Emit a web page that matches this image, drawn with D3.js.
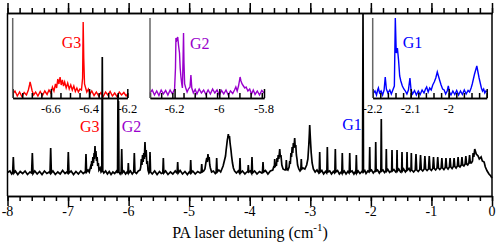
<!DOCTYPE html>
<html>
<head>
<meta charset="utf-8">
<script src="https://cdn.jsdelivr.net/npm/d3@7"></script>
<style>
body { margin: 0; background: #fff; }
.axis path, .axis line { stroke: #000; stroke-width: 1.5; }
</style>
</head>
<body>
<svg id="chart" width="498" height="252"></svg>
<script>
// main spectrum: [detuning (cm-1), signal (arb.)]
var mainSpectrum = [
[-8.00,10.5],[-7.96,12],[-7.93,9],[-7.915,10],[-7.904,26],[-7.893,10],[-7.87,12],[-7.83,8.5],[-7.79,11.5],[-7.75,9.5],[-7.71,12],[-7.67,8.5],[-7.63,11],[-7.602,10],[-7.590,30],[-7.578,9.5],[-7.55,12],[-7.51,9],[-7.47,11.5],[-7.43,8.5],[-7.39,12],[-7.35,9.5],[-7.31,11],[-7.298,10],[-7.287,35],[-7.276,10],[-7.25,12],[-7.21,8.5],[-7.17,11],[-7.13,9],[-7.09,12.5],[-7.05,9.5],[-7.02,11],[-7.007,10],[-6.996,31],[-6.985,10],[-6.95,12],[-6.91,8.5],[-6.87,11.5],[-6.83,9],[-6.79,12],[-6.75,9.5],[-6.72,11],[-6.714,10],[-6.704,29],[-6.694,11],
[-6.67,13],[-6.65,11],[-6.63,16],[-6.62,14],[-6.61,22],[-6.60,17],[-6.59,26],[-6.58,20],[-6.57,30],[-6.565,24],[-6.555,37],[-6.55,27],[-6.54,32],[-6.53,22],[-6.52,26],[-6.51,17],[-6.50,20],[-6.49,13],[-6.47,15],[-6.455,11],
[-6.443,12],[-6.435,126],[-6.427,12],[-6.41,10],[-6.38,12],[-6.35,9],[-6.32,11.5],[-6.29,8.5],[-6.26,11],[-6.23,9.5],[-6.20,12],
[-6.183,10],[-6.176,88],[-6.171,40],[-6.167,82],[-6.160,11],[-6.14,9],[-6.123,11],[-6.114,34],[-6.105,10],[-6.08,12],[-6.05,9],[-6.025,11],[-6.013,10],[-6.005,20],[-5.997,10],[-5.97,12],[-5.94,9],[-5.916,11],[-5.906,30],[-5.896,11],[-5.87,9.5],[-5.84,12],[-5.81,13],
[-5.80,16],[-5.79,24],[-5.78,18],[-5.77,28],[-5.76,21],[-5.75,30],[-5.74,24],[-5.73,41],[-5.72,26],[-5.71,33],[-5.70,19],[-5.69,22],[-5.68,13],[-5.665,10],
[-5.656,11],[-5.647,31],[-5.638,11],[-5.61,9],[-5.57,12],[-5.53,8.5],[-5.49,11.5],[-5.46,9.5],[-5.436,10],[-5.427,25],[-5.418,10],[-5.39,12],[-5.35,8.5],[-5.31,11],[-5.27,9],[-5.23,12],[-5.205,10],[-5.199,10],[-5.190,21],[-5.181,10],[-5.15,12.5],[-5.11,9],[-5.07,11.5],[-5.03,8.5],[-5.00,11],[-4.984,10],[-4.975,23],[-4.966,10],[-4.94,12],[-4.90,9],[-4.86,11.5],[-4.82,10],[-4.802,11],[-4.793,19],[-4.784,11],[-4.76,12],
[-4.74,14],[-4.725,20],[-4.71,25],[-4.70,21],[-4.69,29],[-4.68,23],[-4.67,26],[-4.66,18],[-4.65,15],[-4.63,11],[-4.60,12],[-4.57,9.5],[-4.555,11],[-4.546,25],[-4.537,11],[-4.51,13],[-4.48,11],
[-4.46,14],[-4.44,17],[-4.42,22],[-4.40,27],[-4.39,33],[-4.38,38],[-4.37,43],[-4.36,46],[-4.354,49],[-4.345,45],[-4.335,47],[-4.325,40],[-4.31,33],[-4.30,27],[-4.285,20],[-4.27,15],[-4.25,12],[-4.22,10],[-4.19,12],[-4.17,10],[-4.161,25],[-4.152,10],[-4.12,12],[-4.08,9],[-4.05,11],[-4.032,11],[-4.024,18],[-4.016,11],[-3.99,12],[-3.972,10],[-3.963,26],[-3.954,10],[-3.92,12],[-3.88,9],[-3.84,11.5],[-3.80,10],[-3.79,11],[-3.781,21],[-3.772,11],[-3.74,12.5],[-3.70,9],[-3.66,12],[-3.62,13],[-3.60,17],[-3.594,15],[-3.588,24],[-3.582,16],
[-3.57,20],[-3.56,17],[-3.55,25],[-3.54,21],[-3.53,28],[-3.52,24],[-3.505,34],[-3.495,26],[-3.485,28],[-3.47,18],[-3.45,14],[-3.42,13],[-3.405,13],[-3.396,23],[-3.387,14],[-3.37,13],
[-3.35,16],[-3.34,22],[-3.33,19],[-3.32,30],[-3.31,26],[-3.30,36],[-3.29,30],[-3.28,40],[-3.27,35],[-3.258,45],[-3.25,36],[-3.24,38],[-3.23,28],[-3.22,24],[-3.21,18],[-3.19,14],[-3.17,12],[-3.157,13],[-3.149,24],[-3.141,14],[-3.12,15],[-3.09,14],[-3.06,18],[-3.04,24],[-3.025,38],[-3.015,50],[-3.010,58],[-3.003,49],[-2.995,40],[-2.985,30],[-2.97,20],[-2.95,14],[-2.92,11],[-2.89,13],[-2.86,10],
[-2.853,11],[-2.845,31],[-2.837,11],[-2.81,12.5],[-2.78,9],[-2.75,11.5],[-2.73,10],[-2.727,11],[-2.719,36],[-2.711,11],[-2.68,12],[-2.65,9],[-2.62,11.5],[-2.60,10],[-2.595,11],[-2.587,34],[-2.579,11],[-2.55,12.5],[-2.52,9],[-2.49,11],[-2.48,10],[-2.472,30],[-2.464,10],[-2.44,12],[-2.41,9],[-2.38,11.5],[-2.36,10],[-2.357,11],[-2.349,30],[-2.341,11],[-2.31,12],[-2.28,9],[-2.26,11],[-2.248,10],[-2.240,28],[-2.232,10],[-2.21,12],[-2.18,9.5],[-2.15,11.5],
[-2.138,11],[-2.130,170],[-2.122,11],[-2.10,12.5],[-2.08,9.5],[-2.05,12],[-2.03,11],[-2.026,12],[-2.019,36],[-2.012,12],[-1.99,13],[-1.96,10],[-1.935,12],[-1.927,12],[-1.920,41],[-1.913,12],[-1.89,13],[-1.86,10],[-1.84,12],[-1.835,12],[-1.828,64],[-1.821,12],[-1.80,13],[-1.775,10.5],[-1.755,12],[-1.751,12],[-1.745,34],[-1.739,12],[-1.72,13.5],[-1.69,10.5],[-1.665,12],[-1.657,12],[-1.651,33],[-1.645,12],[-1.62,13.5],[-1.59,11],[-1.574,12],[-1.568,33],[-1.562,12],[-1.54,14],[-1.51,11],[-1.492,12],[-1.486,31],[-1.480,12],[-1.46,14],[-1.43,11],[-1.409,13],[-1.403,31],[-1.397,13],[-1.37,14.5],[-1.35,12],[-1.338,13],[-1.332,30],[-1.326,13],
[-1.294,11],[-1.267,13],[-1.255,29],[-1.243,13],[-1.218,11.5],[-1.192,13.5],[-1.180,28],[-1.168,13.5],[-1.144,12],[-1.12,14],[-1.108,27],[-1.096,14],[-1.072,12.5],[-1.048,14],[-1.036,27],[-1.024,14],[-1.001,12.5],[-0.978,14.5],[-0.966,26],[-0.954,14.5],[-0.931,13],[-0.908,15],[-0.896,26],[-0.884,15],[-0.862,13.5],[-0.84,15],[-0.828,25],[-0.816,15],[-0.794,13.5],[-0.772,15.5],[-0.760,25],[-0.748,15.5],[-0.726,14],[-0.704,16],[-0.692,25],[-0.680,16],[-0.659,14.5],[-0.638,16.5],[-0.626,25],[-0.614,16.5],[-0.593,15],[-0.572,17],[-0.560,26],[-0.548,17],[-0.528,16],[-0.508,18],[-0.496,26],[-0.484,18],[-0.464,17],[-0.444,19],[-0.432,27],[-0.420,19],[-0.401,18],[-0.382,20],[-0.370,28],[-0.358,20],[-0.340,20],[-0.322,22],[-0.312,30],[-0.300,26],[-0.285,34],[-0.26,29],[-0.23,27],[-0.21,24],[-0.18,26],[-0.16,22],[-0.13,21],[-0.11,16],[-0.08,12],[-0.05,9],[-0.02,7],[0.00,5]
];

// zoomed scans
var g3Scan = [
[-6.800,4],[-6.788,7],[-6.776,2],[-6.764,6],[-6.752,1.5],[-6.740,5.5],[-6.728,3],[-6.718,8],[-6.712,13],[-6.709,16],[-6.704,12],[-6.698,7],[-6.690,3],[-6.680,6],[-6.668,2],[-6.656,6.5],[-6.644,2.5],[-6.632,7],[-6.620,3.5],[-6.610,8],[-6.600,5],[-6.592,11],[-6.584,7],[-6.576,14],[-6.570,10],[-6.564,19],[-6.558,14],[-6.552,21],[-6.546,13],[-6.540,18],[-6.534,12],[-6.528,16],[-6.520,10],[-6.512,15],[-6.504,9],[-6.496,13],[-6.488,8],[-6.480,12],[-6.472,6.5],[-6.464,10],[-6.456,6],[-6.448,9],[-6.440,8],[-6.434,20],[-6.431,76],[-6.428,40],[-6.424,14],[-6.418,10],[-6.412,6],[-6.404,9],[-6.396,4],[-6.386,7],[-6.374,2.5],[-6.362,6],[-6.350,2],[-6.338,5.5],[-6.326,1.5],[-6.314,6],[-6.302,3],[-6.290,6.5],[-6.278,2],[-6.266,5],[-6.254,1.5],[-6.242,6],[-6.230,3],[-6.218,5.5],[-6.206,2],[-6.200,4]
];
var g2Scan = [
[-6.310,5],[-6.300,8],[-6.290,3],[-6.280,7],[-6.270,2.5],[-6.260,8],[-6.250,4],[-6.240,7.5],[-6.230,3],[-6.220,8],[-6.210,4],[-6.204,7],[-6.200,9],[-6.196,30],[-6.194,60],[-6.190,58],[-6.186,61],[-6.182,52],[-6.178,45],[-6.175,30],[-6.172,22],[-6.168,14],[-6.165,10],[-6.162,40],[-6.160,65],[-6.158,35],[-6.155,14],[-6.150,10],[-6.144,6],[-6.138,9],[-6.131,11],[-6.127,23],[-6.123,10],[-6.116,5],[-6.108,8.5],[-6.100,4],[-6.090,9],[-6.080,5],[-6.070,8],[-6.060,3.5],[-6.050,8],[-6.040,4],[-6.030,9],[-6.020,5],[-6.010,8],[-6.000,3],[-5.990,7.5],[-5.980,4],[-5.970,8],[-5.960,3],[-5.950,7],[-5.940,4.5],[-5.932,8],[-5.926,11],[-5.920,7],[-5.914,12],[-5.910,17],[-5.907,21],[-5.903,17],[-5.898,14],[-5.892,12],[-5.886,10],[-5.880,11],[-5.872,7],[-5.864,9],[-5.856,4],[-5.848,8],[-5.840,3.5],[-5.830,7],[-5.820,3],[-5.810,7.5],[-5.800,5]
];
var g1Scan = [
[-2.200,4],[-2.194,7],[-2.190,3],[-2.187,8],[-2.185,10],[-2.182,5],[-2.178,7],[-2.174,3],[-2.170,8],[-2.167,21],[-2.164,9],[-2.160,5],[-2.155,8],[-2.151,4],[-2.147,8],[-2.143,12],[-2.1405,80],[-2.138,45],[-2.135,50],[-2.132,38],[-2.129,22],[-2.126,17],[-2.122,12],[-2.118,9],[-2.114,7],[-2.110,4],[-2.106,8],[-2.102,20],[-2.099,8],[-2.095,4],[-2.090,7.5],[-2.085,3],[-2.080,7],[-2.075,3.5],[-2.070,8],[-2.065,5],[-2.061,9],[-2.058,11],[-2.054,6],[-2.050,10],[-2.046,8],[-2.042,13],[-2.038,16],[-2.034,20],[-2.030,26],[-2.027,22],[-2.024,18],[-2.020,13],[-2.016,9],[-2.012,8],[-2.008,4],[-2.004,7],[-2.001,12],[-1.998,6],[-1.994,3],[-1.989,7],[-1.984,3.5],[-1.979,7.5],[-1.974,3],[-1.969,7],[-1.964,3.5],[-1.959,8],[-1.954,4],[-1.949,7.5],[-1.945,6],[-1.941,10],[-1.938,14],[-1.935,19],[-1.932,24],[-1.929,28],[-1.926,32],[-1.923,26],[-1.920,20],[-1.917,15],[-1.914,10],[-1.911,7],[-1.908,9],[-1.905,5],[-1.902,7],[-1.900,6]
];

// tick labels
var mainTickLabels = [-8, -7, -6, -5, -4, -3, -2, -1, 0];
var g3TickLabels = [-6.6, -6.4, -6.2];
var g2TickLabels = [-6.2, -6, -5.8];
var g1TickLabels = [-2.2, -2.1, -2];

var serif = "'Liberation Serif', 'Times New Roman', Times, 'DejaVu Serif', serif";

var svg = d3.select("#chart");

var x = d3.scaleLinear().domain([-8, 0]).range([7.5, 492]);
var y = d3.scaleLinear().domain([0, 170]).range([183, 13]);

function drawInset(scan, domain, left, right, color, majors, minorStep, labels) {
	var sx = d3.scaleLinear().domain(domain).range([left, right]);
	var sy = d3.scaleLinear().domain([0, 80]).range([98, 18]);
	var g = svg.append("g").attr("class", "inset");

	g.append("path")
		.datum(scan)
		.attr("d", d3.line().x(function(d){ return sx(d[0]); }).y(function(d){ return sy(d[1]); }))
		.style("fill", "none")
		.style("stroke", color)
		.style("stroke-width", 1.4);

	var minors = d3.range(domain[0], domain[1] + minorStep / 2, minorStep);
	g.append("g").attr("class", "axis").attr("transform", "translate(0,98)")
		.call(d3.axisTop(sx).tickValues(minors).tickSize(5).tickSizeOuter(0).tickFormat(""));
	g.append("g").attr("class", "axis").attr("transform", "translate(0,98)")
		.call(d3.axisTop(sx).tickValues(majors).tickSize(9).tickSizeOuter(0).tickFormat(""));

	g.append("line")
		.attr("x1", left).attr("x2", left).attr("y1", 18).attr("y2", 98)
		.style("stroke", "#666").style("stroke-width", 1.5);

	g.selectAll("text.tl").data(labels).enter().append("text")
		.attr("class", "tl")
		.attr("x", function(d){ return sx(d); })
		.attr("y", 112.5)
		.attr("text-anchor", "middle")
		.style("font-family", serif)
		.style("font-size", "12.5px")
		.text(function(d){ return String(d); });
}

drawInset(g3Scan, [-6.8, -6.2], 12.7, 127.3, "#ff0000", [-6.8, -6.6, -6.4, -6.2], 0.05, g3TickLabels);
drawInset(g2Scan, [-6.31, -5.8], 150, 264, "#9900cc", [-6.2, -6.0, -5.8], 0.05, g2TickLabels);
drawInset(g1Scan, [-2.2, -1.9], 372.7, 486.7, "#0000ff", [-2.2, -2.1, -2.0, -1.9], 0.02, g1TickLabels);

// main spectrum
svg.append("path")
	.datum(mainSpectrum)
	.attr("d", d3.line().x(function(d){ return x(d[0]); }).y(function(d){ return y(d[1]); }))
	.style("fill", "none")
	.style("stroke", "#000")
	.style("stroke-width", 1.7);

// frame and axes
var minorMain = d3.range(-8, 0.1, 0.2);
svg.append("g").attr("class", "axis").attr("transform", "translate(0,196)")
	.call(d3.axisBottom(x).tickValues(minorMain).tickSize(5).tickSizeOuter(0).tickFormat(""));
svg.append("g").attr("class", "axis").attr("transform", "translate(0,196)")
	.call(d3.axisBottom(x).tickValues(mainTickLabels).tickSize(10).tickSizeOuter(0).tickFormat(""));
svg.append("g").attr("class", "axis").attr("transform", "translate(0,13)")
	.call(d3.axisTop(x).tickValues(minorMain).tickSize(5).tickSizeOuter(0).tickFormat(""));
svg.append("g").attr("class", "axis").attr("transform", "translate(0,13)")
	.call(d3.axisTop(x).tickValues(mainTickLabels).tickSize(10).tickSizeOuter(0).tickFormat(""));

[x(-8), x(0)].forEach(function(px){
	svg.append("line").attr("x1", px).attr("x2", px).attr("y1", 13).attr("y2", 196)
		.style("stroke", "#000").style("stroke-width", 1.5);
});

svg.selectAll("text.main-tl").data(mainTickLabels).enter().append("text")
	.attr("class", "main-tl")
	.attr("x", function(d){ return x(d); })
	.attr("y", 216)
	.attr("text-anchor", "middle")
	.style("font-family", serif)
	.style("font-size", "14px")
	.text(function(d){ return String(d); });

var title = svg.append("text")
	.attr("x", 250).attr("y", 238)
	.attr("text-anchor", "middle")
	.style("font-family", serif)
	.style("font-size", "16px");
title.append("tspan").text("PA laser detuning (cm");
title.append("tspan").attr("dy", -7).style("font-size", "11px").text("-1");
title.append("tspan").attr("dy", 7).text(")");

// peak labels
var peakLabels = [
	{t: "G3", c: "#ff0000", x: 80, y: 131.7},
	{t: "G2", c: "#9900cc", x: 121.7, y: 131.7},
	{t: "G1", c: "#0000ff", x: 342.3, y: 130},
	{t: "G3", c: "#ff0000", x: 61.7, y: 48.3},
	{t: "G2", c: "#9900cc", x: 190, y: 49},
	{t: "G1", c: "#0000ff", x: 402.7, y: 48.3}
];
svg.selectAll("text.peak").data(peakLabels).enter().append("text")
	.attr("class", "peak")
	.attr("x", function(d){ return d.x; })
	.attr("y", function(d){ return d.y; })
	.style("font-family", serif)
	.style("font-size", "16px")
	.style("fill", function(d){ return d.c; })
	.text(function(d){ return d.t; });
</script>
</body>
</html>
